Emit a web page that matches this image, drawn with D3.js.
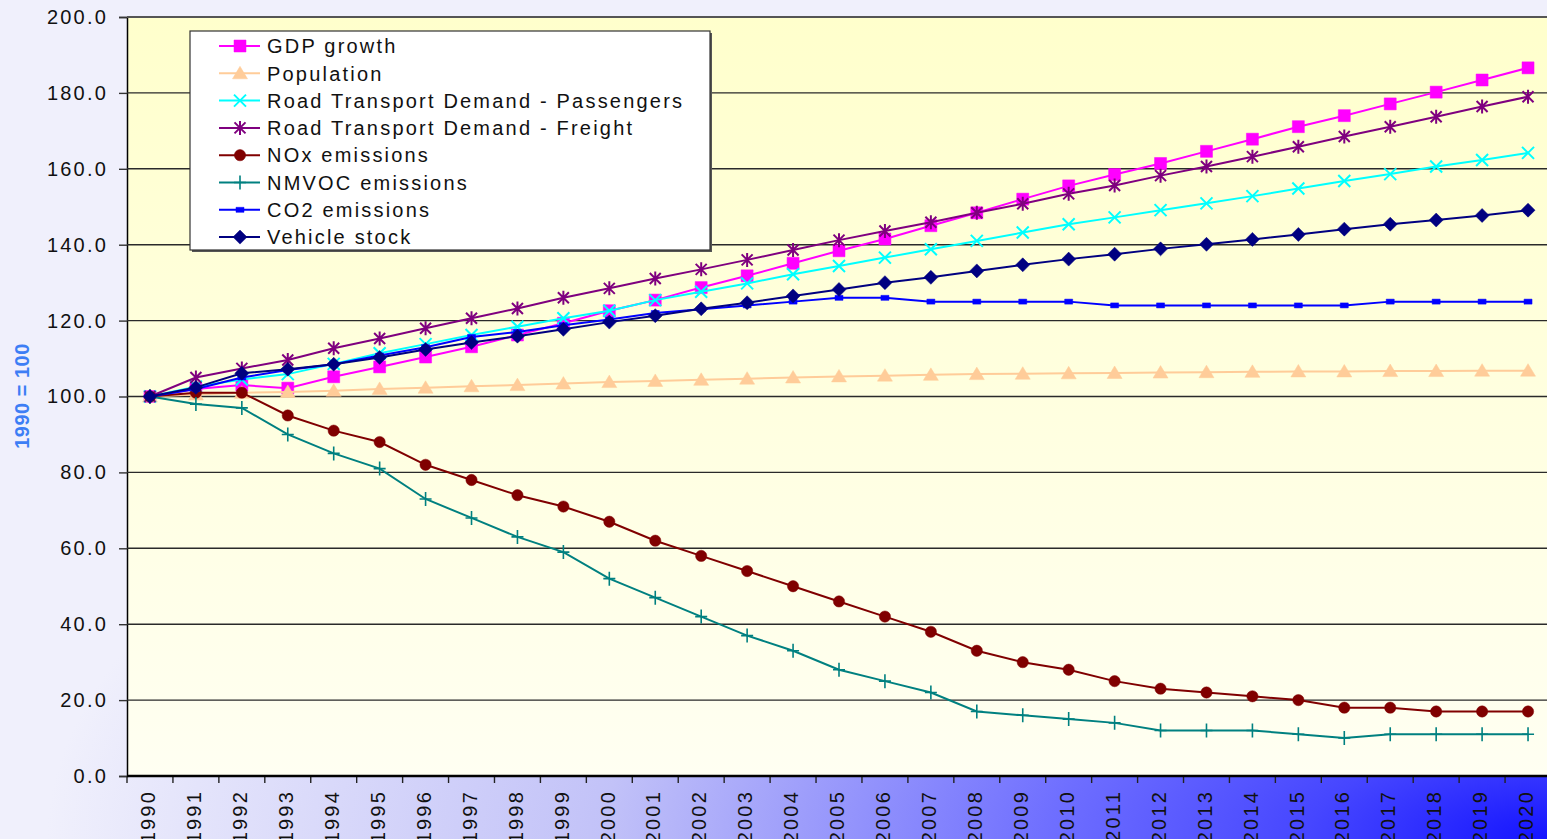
<!DOCTYPE html>
<html>
<head>
<meta charset="utf-8">
<script src="https://cdn.jsdelivr.net/npm/d3@7"></script>
<style>
  html, body { margin: 0; padding: 0; background: #f0f0fc; }
  svg { display: block; }
  text { font-family: Arial, "Liberation Sans", sans-serif; }
</style>
</head>
<body>
<div id="chart"></div>
<script>
// ── DATA ─────────────────────────────────────
const years = ['1990','1991','1992','1993','1994','1995','1996','1997','1998','1999','2000',
  '2001','2002','2003','2004','2005','2006','2007','2008','2009','2010',
  '2011','2012','2013','2014','2015','2016','2017','2018','2019','2020'];

const yTicks = [0, 20, 40, 60, 80, 100, 120, 140, 160, 180, 200];

const gdp = [100,102,103,102.2,105.2,107.8,110.4,113.1,116.2,119.3,122.6,125.4,128.7,131.8,135.1,
  138.4,141.5,145,148.4,152,155.5,158.5,161.4,164.6,167.8,171.1,174,177.1,180.2,183.4,186.6];
const population = [100,100.5,101,101.2,101.5,102,102.3,102.7,103,103.4,103.8,104.1,104.4,104.7,105,
  105.3,105.5,105.7,105.9,106,106.1,106.2,106.3,106.4,106.5,106.6,106.6,106.7,106.7,106.8,106.8];
const passengers = [100,102.6,104.5,105.9,108.6,111.4,113.8,116.2,118.4,120.6,122.6,125.4,127.6,129.8,132.2,
  134.4,136.6,138.8,141,143.2,145.4,147.2,149.1,150.9,152.8,154.8,156.8,158.6,160.6,162.3,164.2];
const freight = [100,105,107.4,109.6,112.7,115.3,118,120.6,123.2,126,128.5,131.1,133.5,136,138.6,
  141.2,143.6,145.9,148.4,150.8,153.4,155.6,158.2,160.6,163.2,165.8,168.5,171.1,173.7,176.4,179];
const nox = [100,101,101,95,91,88,82,78,74,71,67,62,58,54,50,46,42,38,33,30,28,25,23,22,21,20,18,18,17,17,17];
const nmvoc = [100,98,97,90,85,81,73,68,63,59,52,47,42,37,33,28,25,22,17,16,15,14,12,12,12,11,10,11,11,11,11];
const co2 = [100,102,105,107,108.5,110.8,113,115.7,117,118.8,120.3,122,123,124,125,126,126,125,125,125,
  125,124,124,124,124,124,124,125,125,125,125];
const vehicles = [100,102.4,106.1,107.2,108.5,110.3,112.4,114.2,115.9,117.7,119.6,121.3,123.1,124.7,126.5,
  128.2,130,131.4,133.1,134.7,136.2,137.5,138.9,140.1,141.4,142.7,144.1,145.4,146.5,147.7,149.1];

const seriesNames = ['GDP growth', 'Population', 'Road Transport Demand - Passengers',
  'Road Transport Demand - Freight', 'NOx emissions', 'NMVOC emissions', 'CO2 emissions', 'Vehicle stock'];
const seriesValues = [gdp, population, passengers, freight, nox, nmvoc, co2, vehicles];

// ── STYLE ────────────────────────────────────
const STYLE = [
  { color: '#ff00ff', marker: 'square' },
  { color: '#ffcc99', marker: 'triangle' },
  { color: '#00ffff', marker: 'x' },
  { color: '#7f007f', marker: 'star' },
  { color: '#800000', marker: 'circle' },
  { color: '#008080', marker: 'plus' },
  { color: '#0000ff', marker: 'dash' },
  { color: '#000080', marker: 'diamond' }
];

const MARKER = {
  square:   { d: 'M-6,-6h12v12h-12z', fill: true },
  triangle: { d: 'M0,-7L7.5,5.5L-7.5,5.5Z', fill: true },
  x:        { d: 'M-6,-6L6,6M6,-6L-6,6', fill: false, w: 2 },
  star:     { d: 'M-5.5,-5.5L5.5,5.5M5.5,-5.5L-5.5,5.5M0,-7V7', fill: false, w: 2 },
  circle:   { d: d3.symbol(d3.symbolCircle, 100)(), fill: true },
  plus:     { d: 'M-6,0H6M0,-7V7', fill: false, w: 1.6 },
  dash:     { d: 'M-4,-2.5h8v5h-8z', fill: true },
  diamond:  { d: 'M0,-7L7,0L0,7L-7,0Z', fill: true }
};

const FONT = 20;
const SPACING = '2.2px';

function addMarker(sel, s) {
  const m = MARKER[s.marker];
  sel.append('path')
    .attr('d', m.d)
    .attr('fill', m.fill ? s.color : 'none')
    .attr('stroke', s.color)
    .attr('stroke-width', m.fill ? 0.5 : m.w);
}

// ── LAYOUT ───────────────────────────────────
const W = 1547, H = 839;
const P = { l: 127, r: 1551, t: 17, b: 776 };

const svg = d3.select('#chart').append('svg')
  .attr('width', W).attr('height', H);

const defs = svg.append('defs');

const bg = defs.append('radialGradient')
  .attr('id', 'bg')
  .attr('gradientUnits', 'userSpaceOnUse')
  .attr('cx', W).attr('cy', H).attr('r', 1500)
  .attr('gradientTransform', `translate(${W},${H}) scale(1,0.4) translate(${-W},${-H})`);
[[0, '#1414ff'], [0.16, '#4646ff'], [0.33, '#6e6eff'], [0.63, '#c2c2f8'], [1, '#f0f0fc']]
  .forEach(([o, c]) => bg.append('stop').attr('offset', o).attr('stop-color', c));

const pg = defs.append('linearGradient')
  .attr('id', 'plotbg').attr('x1', 0).attr('y1', 0).attr('x2', 0).attr('y2', 1);
pg.append('stop').attr('offset', 0).attr('stop-color', '#ffffcc');
pg.append('stop').attr('offset', 1).attr('stop-color', '#fffff2');

svg.append('rect').attr('width', W).attr('height', H).attr('fill', 'url(#bg)');
svg.append('rect')
  .attr('x', P.l).attr('y', P.t)
  .attr('width', P.r - P.l).attr('height', P.b - P.t)
  .attr('fill', 'url(#plotbg)');

// ── SCALES ───────────────────────────────────
const x = d3.scaleBand().domain(years).range([P.l, P.r]).padding(0);
const xc = yr => x(yr) + x.bandwidth() / 2;
const y = d3.scaleLinear().domain([0, 200]).range([P.b, P.t]);

// ── GRID + Y AXIS ────────────────────────────
const yAxis = svg.append('g')
  .attr('transform', `translate(${P.l},0)`)
  .call(d3.axisLeft(y).tickValues(yTicks).tickSize(8).tickPadding(11).tickFormat(d3.format('.1f')));
yAxis.select('.domain').attr('stroke', '#000').attr('stroke-width', 1.5);
yAxis.selectAll('.tick line').attr('stroke', '#333').attr('stroke-width', 1.4);
yAxis.selectAll('.tick text')
  .attr('font-size', FONT).attr('fill', '#111')
  .style('letter-spacing', SPACING);

svg.append('g').selectAll('line')
  .data(yTicks.filter(v => v > 0))
  .enter().append('line')
  .attr('x1', P.l).attr('x2', P.r)
  .attr('y1', d => y(d)).attr('y2', d => y(d))
  .attr('stroke', d => d === 200 ? '#555' : '#2a2a2a')
  .attr('stroke-width', d => d === 200 ? 2 : 1.4);

// ── X AXIS ───────────────────────────────────
svg.append('g').selectAll('line')
  .data(years)
  .enter().append('line')
  .attr('x1', d => x(d)).attr('x2', d => x(d))
  .attr('y1', P.b).attr('y2', P.b + 7)
  .attr('stroke', '#222').attr('stroke-width', 1.4);

svg.append('line')
  .attr('x1', P.l).attr('x2', P.r)
  .attr('y1', P.b).attr('y2', P.b)
  .attr('stroke', '#000').attr('stroke-width', 2.5);

svg.append('g').selectAll('text')
  .data(years)
  .enter().append('text')
  .attr('transform', d => `translate(${xc(d) - 2},${P.b + 14}) rotate(-90)`)
  .attr('text-anchor', 'end')
  .attr('dy', '0.36em')
  .attr('font-size', FONT)
  .attr('fill', '#111')
  .style('letter-spacing', SPACING)
  .text(d => d);

// y title
svg.append('text')
  .attr('transform', `translate(22,396) rotate(-90)`)
  .attr('text-anchor', 'middle')
  .attr('dy', '0.36em')
  .attr('font-size', 20)
  .attr('font-weight', 'bold')
  .attr('fill', '#3d7ef5')
  .style('letter-spacing', '0.5px')
  .text('1990 = 100');

// ── SERIES ───────────────────────────────────
const line = d3.line()
  .x((d, i) => xc(years[i]))
  .y(d => y(d));

seriesValues.forEach((vals, si) => {
  const s = STYLE[si];
  const g = svg.append('g');
  g.append('path')
    .attr('d', line(vals))
    .attr('fill', 'none')
    .attr('stroke', s.color)
    .attr('stroke-width', 2);
  vals.forEach((v, i) => {
    const mg = g.append('g').attr('transform', `translate(${xc(years[i])},${y(v)})`);
    addMarker(mg, s);
  });
});

// ── LEGEND ───────────────────────────────────
const LG = { x: 190, y: 31, w: 520, h: 219 };
svg.append('rect')
  .attr('x', LG.x + 2).attr('y', LG.y + 2)
  .attr('width', LG.w).attr('height', LG.h)
  .attr('fill', '#555');
svg.append('rect')
  .attr('x', LG.x).attr('y', LG.y)
  .attr('width', LG.w).attr('height', LG.h)
  .attr('fill', '#fff').attr('stroke', '#333').attr('stroke-width', 1.2);

seriesNames.forEach((name, i) => {
  const s = STYLE[i];
  const cy = 46 + i * 27.3;
  svg.append('line')
    .attr('x1', 219).attr('x2', 260)
    .attr('y1', cy).attr('y2', cy)
    .attr('stroke', s.color).attr('stroke-width', 2);
  const mg = svg.append('g').attr('transform', `translate(240,${cy})`);
  addMarker(mg, s);
  svg.append('text')
    .attr('x', 267).attr('y', cy)
    .attr('dy', '0.36em')
    .attr('font-size', FONT)
    .attr('fill', '#111')
    .style('letter-spacing', SPACING)
    .text(name);
});
</script>
</body>
</html>
